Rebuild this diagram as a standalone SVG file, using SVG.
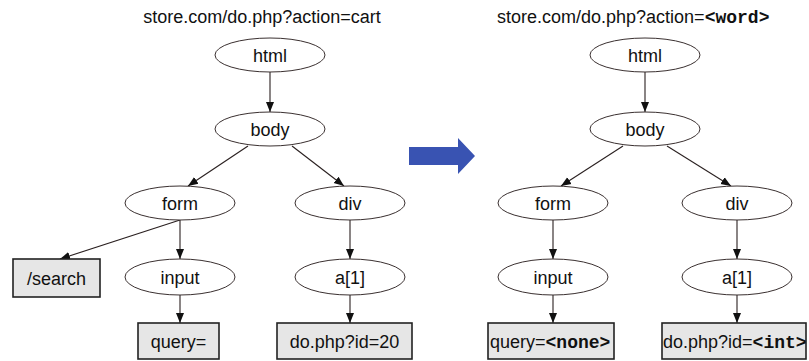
<svg xmlns="http://www.w3.org/2000/svg" width="809" height="361" viewBox="0 0 809 361">
  <style>
    .t { font-family: "Liberation Sans", Arial, sans-serif; font-size: 18px; fill: #111; }
    .title { font-family: "Liberation Sans", Arial, sans-serif; font-size: 18px; fill: #111; }
    .mono { font-family: "Liberation Mono", "Courier New", monospace; font-weight: bold; font-size: 18px; }
    .el { fill: #fff; stroke: #3a3030; stroke-width: 1; }
    .box { fill: #e6e6e6; stroke: #222; stroke-width: 1.6; }
    .edge { stroke: #2a2020; stroke-width: 1.1; fill: none; marker-end: url(#arr); }
  </style>
  <defs>
    <marker id="arr" viewBox="0 0 10 10" refX="10" refY="5" markerWidth="10" markerHeight="10" markerUnits="userSpaceOnUse" orient="auto">
      <path d="M0,1 L10,5 L0,9 Z" fill="#111"/>
    </marker>
  </defs>
  <rect width="809" height="361" fill="#fff"/>

  <!-- headings -->
  <text class="title" x="262" y="23" text-anchor="middle">store.com/do.php?action=cart</text>
  <text class="title" x="497" y="23">store.com/do.php?action=<tspan class="mono">&lt;word&gt;</tspan></text>

  <!-- connectors -->
  <g id="edges">
    <line class="edge" x1="270" y1="72" x2="270" y2="112"/>
    <line class="edge" x1="248" y1="146" x2="188" y2="186"/>
    <line class="edge" x1="292" y1="146" x2="344" y2="186"/>
    <line class="edge" x1="180" y1="220" x2="60" y2="259"/>
    <line class="edge" x1="180" y1="220" x2="180" y2="259"/>
    <line class="edge" x1="180" y1="295" x2="180" y2="323"/>
    <line class="edge" x1="350" y1="220" x2="350" y2="259"/>
    <line class="edge" x1="350" y1="295" x2="350" y2="323"/>

    <line class="edge" x1="645" y1="72" x2="645" y2="112"/>
    <line class="edge" x1="623" y1="146" x2="561" y2="186"/>
    <line class="edge" x1="667" y1="146" x2="731" y2="186"/>
    <line class="edge" x1="553" y1="220" x2="553" y2="259"/>
    <line class="edge" x1="553" y1="295" x2="553" y2="323"/>
    <line class="edge" x1="737" y1="220" x2="737" y2="259"/>
    <line class="edge" x1="737" y1="295" x2="737" y2="323"/>
  </g>

  <!-- left tree -->
  <g id="l-html"><ellipse class="el" cx="270" cy="55" rx="55" ry="17"/><text class="t" x="270" y="61.5" text-anchor="middle">html</text></g>
  <g id="l-body"><ellipse class="el" cx="270" cy="129" rx="55" ry="17"/><text class="t" x="270" y="135.5" text-anchor="middle">body</text></g>
  <g id="l-form"><ellipse class="el" cx="180" cy="203" rx="55" ry="17"/><text class="t" x="180" y="209.5" text-anchor="middle">form</text></g>
  <g id="l-div"><ellipse class="el" cx="350" cy="203" rx="55" ry="17"/><text class="t" x="350" y="209.5" text-anchor="middle">div</text></g>
  <g id="l-search"><rect class="box" x="13" y="259" width="87" height="38"/><text class="t" x="56.5" y="284.5" text-anchor="middle">/search</text></g>
  <g id="l-input"><ellipse class="el" cx="180" cy="277" rx="55" ry="18"/><text class="t" x="180" y="283.5" text-anchor="middle">input</text></g>
  <g id="l-a1"><ellipse class="el" cx="350" cy="277" rx="55" ry="18"/><text class="t" x="350" y="283.5" text-anchor="middle">a[1]</text></g>
  <g id="l-query"><rect class="box" x="138" y="323" width="81" height="36"/><text class="t" x="178.5" y="347.5" text-anchor="middle">query=</text></g>
  <g id="l-link"><rect class="box" x="277" y="323" width="135" height="36"/><text class="t" x="344.5" y="347.5" text-anchor="middle">do.php?id=20</text></g>

  <!-- transform arrow -->
  <path d="M409,147 H458 V138 L475,156 L458,174 V165 H409 Z" fill="#3953b2"/>

  <!-- right tree -->
  <g id="r-html"><ellipse class="el" cx="645" cy="55" rx="55" ry="17"/><text class="t" x="645" y="61.5" text-anchor="middle">html</text></g>
  <g id="r-body"><ellipse class="el" cx="645" cy="129" rx="55" ry="17"/><text class="t" x="645" y="135.5" text-anchor="middle">body</text></g>
  <g id="r-form"><ellipse class="el" cx="553" cy="203" rx="55" ry="17"/><text class="t" x="553" y="209.5" text-anchor="middle">form</text></g>
  <g id="r-div"><ellipse class="el" cx="737" cy="203" rx="55" ry="17"/><text class="t" x="737" y="209.5" text-anchor="middle">div</text></g>
  <g id="r-input"><ellipse class="el" cx="553" cy="277" rx="55" ry="18"/><text class="t" x="553" y="283.5" text-anchor="middle">input</text></g>
  <g id="r-a1"><ellipse class="el" cx="737" cy="277" rx="55" ry="18"/><text class="t" x="737" y="283.5" text-anchor="middle">a[1]</text></g>
  <g id="r-query"><rect class="box" x="488" y="323" width="126" height="36"/><text class="t" x="490" y="347.5">query=<tspan class="mono">&lt;none&gt;</tspan></text></g>
  <g id="r-link"><rect class="box" x="662" y="323" width="144" height="36"/><text class="t" x="663" y="347.5">do.php?id=<tspan class="mono">&lt;int&gt;</tspan></text></g>
</svg>
